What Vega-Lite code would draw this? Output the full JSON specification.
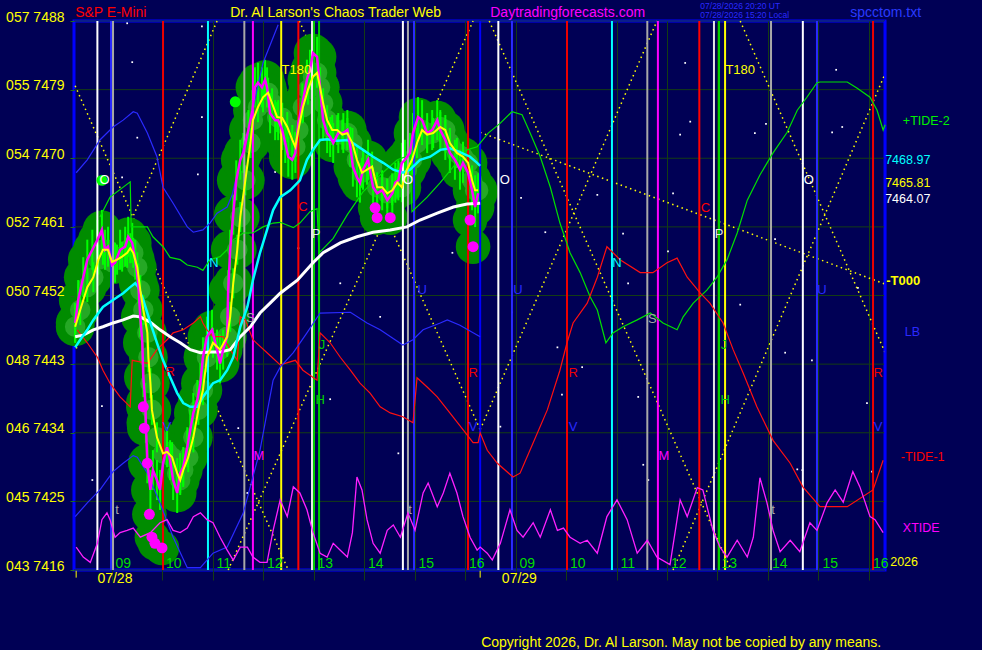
{
  "$schema": "https://vega.github.io/schema/vega-lite/v6.json",
  "description": "S&P E-Mini chaos trader chart, 07/28-07/29",
  "width": 811,
  "height": 549,
  "autosize": {"type": "none"},
  "padding": {"left": 74, "top": 21, "right": 97, "bottom": 80},
  "background": "#000055",
  "config": {
    "view": {"stroke": "#0000ff", "strokeWidth": 3},
    "text": {"font": "Liberation Sans"}
  },
  "datasets": {
    "price": [{"h":8.28,"p":7447.9},{"h":8.38,"p":7450.1},{"h":8.52,"p":7453.1},{"h":8.64,"p":7454.4},{"h":8.74,"p":7456.7},{"h":8.83,"p":7458.0},{"h":8.93,"p":7458.0},{"h":9.01,"p":7456.4},{"h":9.11,"p":7456.7},{"h":9.21,"p":7457.1},{"h":9.31,"p":7457.6},{"h":9.37,"p":7458.2},{"h":9.43,"p":7457.6},{"h":9.51,"p":7455.7},{"h":9.57,"p":7452.7},{"h":9.63,"p":7450.1},{"h":9.71,"p":7447.1},{"h":9.73,"p":7443.9},{"h":9.77,"p":7440.5},{"h":9.80,"p":7437.0},{"h":9.90,"p":7433.4},{"h":10.02,"p":7431.3},{"h":10.10,"p":7431.5},{"h":10.20,"p":7430.8},{"h":10.30,"p":7428.7},{"h":10.36,"p":7427.8},{"h":10.42,"p":7429.1},{"h":10.52,"p":7430.8},{"h":10.62,"p":7433.4},{"h":10.72,"p":7437.0},{"h":10.81,"p":7439.6},{"h":10.89,"p":7443.9},{"h":11.01,"p":7445.8},{"h":11.15,"p":7444.9},{"h":11.29,"p":7446.6},{"h":11.35,"p":7449.2},{"h":11.41,"p":7453.6},{"h":11.49,"p":7458.0},{"h":11.55,"p":7462.3},{"h":11.65,"p":7467.1},{"h":11.75,"p":7472.0},{"h":11.80,"p":7475.0},{"h":11.90,"p":7476.7},{"h":12.00,"p":7478.0},{"h":12.10,"p":7478.6},{"h":12.18,"p":7477.2},{"h":12.28,"p":7475.4},{"h":12.38,"p":7475.3},{"h":12.48,"p":7474.1},{"h":12.58,"p":7472.4},{"h":12.64,"p":7471.5},{"h":12.70,"p":7473.7},{"h":12.79,"p":7476.7},{"h":12.89,"p":7479.0},{"h":12.99,"p":7480.7},{"h":13.07,"p":7481.2},{"h":13.13,"p":7479.3},{"h":13.19,"p":7477.2},{"h":13.27,"p":7475.0},{"h":13.37,"p":7473.7},{"h":13.47,"p":7473.7},{"h":13.57,"p":7473.1},{"h":13.67,"p":7473.3},{"h":13.77,"p":7472.0},{"h":13.86,"p":7469.8},{"h":13.96,"p":7468.1},{"h":14.06,"p":7468.5},{"h":14.16,"p":7468.9},{"h":14.26,"p":7466.2},{"h":14.36,"p":7466.2},{"h":14.46,"p":7465.4},{"h":14.56,"p":7465.8},{"h":14.66,"p":7466.8},{"h":14.75,"p":7466.2},{"h":14.85,"p":7468.5},{"h":14.95,"p":7469.8},{"h":15.05,"p":7472.0},{"h":15.15,"p":7473.7},{"h":15.25,"p":7473.1},{"h":15.37,"p":7473.3},{"h":15.51,"p":7474.1},{"h":15.61,"p":7473.7},{"h":15.70,"p":7472.0},{"h":15.84,"p":7470.7},{"h":15.96,"p":7470.2},{"h":16.06,"p":7469.4},{"h":16.14,"p":7467.1},{"h":16.20,"p":7465.8},{"h":16.26,"p":7465.8}],
    "raw": [{"h":8.28,"p":7448.4},{"h":8.34,"p":7451.4},{"h":8.44,"p":7454.4},{"h":8.52,"p":7456.7},{"h":8.62,"p":7458.0},{"h":8.72,"p":7459.3},{"h":8.81,"p":7460.6},{"h":8.87,"p":7458.0},{"h":8.93,"p":7458.4},{"h":9.01,"p":7456.0},{"h":9.07,"p":7456.3},{"h":9.17,"p":7458.0},{"h":9.27,"p":7458.4},{"h":9.33,"p":7459.7},{"h":9.41,"p":7458.9},{"h":9.47,"p":7456.7},{"h":9.53,"p":7453.6},{"h":9.57,"p":7449.2},{"h":9.61,"p":7445.8},{"h":9.63,"p":7441.3},{"h":9.67,"p":7437.9},{"h":9.68,"p":7435.3},{"h":9.71,"p":7430.0},{"h":9.77,"p":7426.5},{"h":9.82,"p":7429.1},{"h":9.90,"p":7427.8},{"h":9.96,"p":7426.5},{"h":10.02,"p":7430.0},{"h":10.10,"p":7432.1},{"h":10.16,"p":7430.4},{"h":10.22,"p":7427.8},{"h":10.30,"p":7426.1},{"h":10.36,"p":7428.7},{"h":10.42,"p":7429.5},{"h":10.50,"p":7432.1},{"h":10.56,"p":7434.4},{"h":10.62,"p":7436.6},{"h":10.70,"p":7438.3},{"h":10.76,"p":7440.5},{"h":10.81,"p":7443.9},{"h":10.89,"p":7446.6},{"h":10.99,"p":7447.5},{"h":11.09,"p":7444.9},{"h":11.15,"p":7443.1},{"h":11.21,"p":7444.9},{"h":11.29,"p":7446.6},{"h":11.31,"p":7452.7},{"h":11.35,"p":7458.0},{"h":11.41,"p":7462.6},{"h":11.47,"p":7467.1},{"h":11.55,"p":7469.8},{"h":11.61,"p":7470.7},{"h":11.71,"p":7473.7},{"h":11.79,"p":7476.3},{"h":11.84,"p":7479.3},{"h":11.90,"p":7479.9},{"h":11.98,"p":7479.3},{"h":12.04,"p":7480.3},{"h":12.08,"p":7479.3},{"h":12.14,"p":7475.9},{"h":12.24,"p":7475.0},{"h":12.30,"p":7475.0},{"h":12.38,"p":7473.7},{"h":12.44,"p":7472.0},{"h":12.50,"p":7470.2},{"h":12.58,"p":7469.8},{"h":12.64,"p":7470.7},{"h":12.70,"p":7474.6},{"h":12.78,"p":7477.2},{"h":12.87,"p":7480.3},{"h":12.93,"p":7481.6},{"h":12.99,"p":7483.8},{"h":13.07,"p":7483.3},{"h":13.13,"p":7479.3},{"h":13.19,"p":7475.0},{"h":13.27,"p":7473.3},{"h":13.33,"p":7472.8},{"h":13.39,"p":7472.0},{"h":13.49,"p":7473.3},{"h":13.59,"p":7473.3},{"h":13.67,"p":7473.7},{"h":13.73,"p":7471.5},{"h":13.78,"p":7468.9},{"h":13.86,"p":7467.5},{"h":13.92,"p":7466.8},{"h":13.98,"p":7468.5},{"h":14.08,"p":7469.8},{"h":14.18,"p":7466.2},{"h":14.26,"p":7465.4},{"h":14.36,"p":7465.8},{"h":14.46,"p":7464.5},{"h":14.56,"p":7465.4},{"h":14.62,"p":7466.8},{"h":14.68,"p":7467.1},{"h":14.75,"p":7469.4},{"h":14.81,"p":7469.8},{"h":14.91,"p":7470.7},{"h":14.97,"p":7473.3},{"h":15.07,"p":7475.4},{"h":15.15,"p":7475.0},{"h":15.25,"p":7473.3},{"h":15.35,"p":7473.7},{"h":15.45,"p":7475.0},{"h":15.51,"p":7473.7},{"h":15.61,"p":7472.4},{"h":15.70,"p":7470.7},{"h":15.80,"p":7469.8},{"h":15.90,"p":7468.5},{"h":15.96,"p":7469.4},{"h":16.06,"p":7468.1},{"h":16.14,"p":7465.8},{"h":16.20,"p":7463.6},{"h":16.26,"p":7465.4}],
    "fast": [{"h":8.28,"p":7445.2},{"h":8.38,"p":7446.2},{"h":8.52,"p":7447.5},{"h":8.64,"p":7448.8},{"h":8.83,"p":7450.5},{"h":9.03,"p":7451.4},{"h":9.23,"p":7452.3},{"h":9.37,"p":7453.1},{"h":9.47,"p":7453.6},{"h":9.53,"p":7453.1},{"h":9.63,"p":7451.4},{"h":9.77,"p":7448.4},{"h":9.90,"p":7445.8},{"h":10.02,"p":7443.5},{"h":10.16,"p":7441.3},{"h":10.30,"p":7439.2},{"h":10.42,"p":7437.9},{"h":10.56,"p":7437.4},{"h":10.70,"p":7437.4},{"h":10.81,"p":7438.7},{"h":11.01,"p":7440.5},{"h":11.15,"p":7440.9},{"h":11.29,"p":7442.2},{"h":11.41,"p":7443.9},{"h":11.55,"p":7447.9},{"h":11.69,"p":7450.5},{"h":11.80,"p":7454.0},{"h":11.94,"p":7457.6},{"h":12.08,"p":7460.6},{"h":12.20,"p":7463.2},{"h":12.34,"p":7464.9},{"h":12.54,"p":7465.8},{"h":12.73,"p":7467.1},{"h":12.87,"p":7469.8},{"h":12.99,"p":7471.1},{"h":13.13,"p":7472.4},{"h":13.27,"p":7472.5},{"h":13.47,"p":7472.3},{"h":13.67,"p":7472.4},{"h":13.78,"p":7472.0},{"h":13.98,"p":7471.1},{"h":14.18,"p":7470.2},{"h":14.38,"p":7469.4},{"h":14.58,"p":7468.5},{"h":14.77,"p":7468.1},{"h":14.91,"p":7468.5},{"h":15.11,"p":7469.8},{"h":15.31,"p":7470.2},{"h":15.51,"p":7471.1},{"h":15.70,"p":7471.3},{"h":15.90,"p":7470.8},{"h":16.10,"p":7470.2},{"h":16.24,"p":7469.4},{"h":16.30,"p":7469.0}],
    "slow": [{"h":8.28,"p":7446.6},{"h":8.44,"p":7446.8},{"h":8.64,"p":7447.5},{"h":8.83,"p":7447.9},{"h":9.03,"p":7448.4},{"h":9.23,"p":7448.8},{"h":9.43,"p":7449.3},{"h":9.57,"p":7449.2},{"h":9.77,"p":7448.5},{"h":9.96,"p":7447.5},{"h":10.16,"p":7446.6},{"h":10.36,"p":7445.8},{"h":10.56,"p":7444.9},{"h":10.76,"p":7444.5},{"h":10.95,"p":7444.6},{"h":11.15,"p":7444.6},{"h":11.35,"p":7444.9},{"h":11.55,"p":7446.6},{"h":11.75,"p":7447.9},{"h":11.94,"p":7449.7},{"h":12.14,"p":7451.0},{"h":12.34,"p":7452.3},{"h":12.68,"p":7454.0},{"h":12.99,"p":7456.3},{"h":13.19,"p":7457.6},{"h":13.53,"p":7458.9},{"h":13.86,"p":7459.7},{"h":14.18,"p":7460.3},{"h":14.52,"p":7460.6},{"h":14.85,"p":7461.0},{"h":15.11,"p":7461.9},{"h":15.45,"p":7462.8},{"h":15.77,"p":7463.6},{"h":16.04,"p":7464.0},{"h":16.30,"p":7464.1}],
    "tide2": [{"h":8.77,"p":7462.3},{"h":8.97,"p":7464.9},{"h":9.37,"p":7466.9},{"h":9.39,"p":7461.0},{"h":9.71,"p":7461.0},{"h":9.82,"p":7459.7},{"h":10.02,"p":7458.4},{"h":10.16,"p":7457.0},{"h":10.36,"p":7456.7},{"h":10.50,"p":7456.0},{"h":10.70,"p":7455.7},{"h":10.81,"p":7455.3},{"h":10.95,"p":7456.7},{"h":11.15,"p":7457.1},{"h":11.29,"p":7458.0},{"h":11.41,"p":7459.3},{"h":11.61,"p":7460.2},{"h":11.80,"p":7460.2},{"h":12.00,"p":7461.0},{"h":12.20,"p":7461.5},{"h":12.34,"p":7461.6},{"h":12.60,"p":7460.9},{"h":12.73,"p":7461.5},{"h":12.93,"p":7463.0},{"h":13.07,"p":7463.4},{"h":13.11,"p":7457.6},{"h":13.39,"p":7459.5},{"h":13.67,"p":7462.6},{"h":13.98,"p":7465.6},{"h":14.32,"p":7467.8},{"h":14.66,"p":7469.8},{"h":14.91,"p":7470.4},{"h":14.95,"p":7463.0},{"h":15.25,"p":7464.9},{"h":15.51,"p":7466.8},{"h":15.77,"p":7468.9},{"h":16.04,"p":7471.1},{"h":16.24,"p":7471.5},{"h":16.46,"p":7473.3},{"h":16.70,"p":7474.6},{"h":16.93,"p":7476.1},{"h":17.13,"p":7475.7},{"h":17.29,"p":7473.3},{"h":17.49,"p":7470.2},{"h":17.69,"p":7466.2},{"h":17.88,"p":7461.5},{"h":18.08,"p":7457.6},{"h":18.28,"p":7455.0},{"h":18.48,"p":7451.8},{"h":18.62,"p":7450.1},{"h":18.79,"p":7445.8},{"h":18.93,"p":7447.1},{"h":19.13,"p":7447.9},{"h":19.41,"p":7448.8},{"h":19.67,"p":7449.7},{"h":19.92,"p":7448.4},{"h":20.20,"p":7447.5},{"h":20.32,"p":7449.2},{"h":20.52,"p":7451.0},{"h":20.79,"p":7452.7},{"h":20.99,"p":7454.4},{"h":21.19,"p":7456.7},{"h":21.39,"p":7460.2},{"h":21.59,"p":7464.5},{"h":21.84,"p":7467.8},{"h":22.10,"p":7470.7},{"h":22.38,"p":7473.4},{"h":22.58,"p":7476.3},{"h":22.77,"p":7478.0},{"h":22.97,"p":7479.9},{"h":23.03,"p":7480.0},{"h":23.57,"p":7480.0},{"h":23.76,"p":7479.2},{"h":24.02,"p":7478.0},{"h":24.16,"p":7476.3},{"h":24.28,"p":7473.7},{"h":24.32,"p":7474.4}],
    "tide1": [{"h":8.32,"p":7447.5},{"h":8.52,"p":7445.8},{"h":8.72,"p":7443.9},{"h":8.83,"p":7442.2},{"h":8.97,"p":7440.5},{"h":9.17,"p":7438.7},{"h":9.37,"p":7437.4},{"h":9.41,"p":7443.5},{"h":9.71,"p":7443.1},{"h":9.90,"p":7444.9},{"h":10.10,"p":7446.2},{"h":10.22,"p":7447.1},{"h":10.42,"p":7447.5},{"h":10.62,"p":7448.4},{"h":10.76,"p":7449.2},{"h":10.81,"p":7448.4},{"h":10.89,"p":7447.5},{"h":11.01,"p":7446.6},{"h":11.21,"p":7446.6},{"h":11.35,"p":7444.9},{"h":11.49,"p":7443.5},{"h":11.55,"p":7449.2},{"h":11.65,"p":7448.8},{"h":11.80,"p":7446.2},{"h":12.08,"p":7444.5},{"h":12.34,"p":7442.9},{"h":12.64,"p":7443.5},{"h":12.79,"p":7442.2},{"h":13.07,"p":7440.9},{"h":13.13,"p":7447.1},{"h":13.33,"p":7445.8},{"h":13.53,"p":7443.9},{"h":13.73,"p":7442.2},{"h":13.92,"p":7440.5},{"h":14.12,"p":7439.2},{"h":14.32,"p":7437.4},{"h":14.52,"p":7436.6},{"h":14.77,"p":7436.1},{"h":14.97,"p":7435.3},{"h":15.05,"p":7441.2},{"h":15.25,"p":7440.0},{"h":15.45,"p":7438.7},{"h":15.70,"p":7436.6},{"h":15.96,"p":7434.4},{"h":16.16,"p":7432.7},{"h":16.26,"p":7432.7},{"h":16.30,"p":7434.0},{"h":16.44,"p":7431.7},{"h":16.64,"p":7430.0},{"h":16.95,"p":7428.2},{"h":17.09,"p":7428.7},{"h":17.35,"p":7432.7},{"h":17.63,"p":7437.0},{"h":17.88,"p":7442.2},{"h":18.02,"p":7445.8},{"h":18.14,"p":7448.4},{"h":18.42,"p":7451.0},{"h":18.62,"p":7454.4},{"h":18.81,"p":7458.4},{"h":19.07,"p":7456.7},{"h":19.47,"p":7455.0},{"h":19.72,"p":7455.0},{"h":20.00,"p":7456.3},{"h":20.20,"p":7456.9},{"h":20.40,"p":7454.4},{"h":20.66,"p":7452.3},{"h":20.85,"p":7451.0},{"h":21.11,"p":7448.4},{"h":21.31,"p":7444.9},{"h":21.51,"p":7441.8},{"h":21.78,"p":7437.4},{"h":22.10,"p":7433.0},{"h":22.44,"p":7430.0},{"h":22.69,"p":7426.9},{"h":23.03,"p":7424.3},{"h":23.57,"p":7424.3},{"h":24.08,"p":7426.5},{"h":24.28,"p":7430.4}],
    "lb": [{"h":8.28,"p":7423.0},{"h":8.52,"p":7424.8},{"h":8.77,"p":7426.5},{"h":9.03,"p":7428.9},{"h":9.23,"p":7430.0},{"h":9.43,"p":7431.0},{"h":9.51,"p":7430.8},{"h":9.71,"p":7428.7},{"h":9.96,"p":7424.8},{"h":10.22,"p":7420.3},{"h":10.50,"p":7416.3},{"h":10.76,"p":7416.3},{"h":11.01,"p":7418.2},{"h":11.29,"p":7419.0},{"h":11.61,"p":7423.5},{"h":11.94,"p":7431.7},{"h":12.20,"p":7440.9},{"h":12.34,"p":7442.6},{"h":12.60,"p":7444.5},{"h":12.87,"p":7447.1},{"h":13.13,"p":7449.7},{"h":13.73,"p":7449.8},{"h":14.06,"p":7448.4},{"h":14.32,"p":7447.5},{"h":14.77,"p":7445.5},{"h":14.97,"p":7446.2},{"h":15.17,"p":7447.5},{"h":15.51,"p":7448.4},{"h":15.65,"p":7448.8},{"h":15.90,"p":7448.1},{"h":16.30,"p":7446.6}],
    "ub": [{"h":8.30,"p":7468.1},{"h":8.52,"p":7469.8},{"h":8.77,"p":7472.4},{"h":9.03,"p":7474.1},{"h":9.23,"p":7475.0},{"h":9.43,"p":7476.1},{"h":9.51,"p":7475.9},{"h":9.71,"p":7473.3},{"h":9.90,"p":7470.2},{"h":10.02,"p":7466.2},{"h":10.22,"p":7464.1},{"h":10.50,"p":7461.0},{"h":10.62,"p":7460.3},{"h":10.81,"p":7460.6},{"h":10.95,"p":7461.5},{"h":11.09,"p":7462.8},{"h":11.29,"p":7463.6},{"h":11.39,"p":7465.2},{"h":11.75,"p":7475.0},{"h":12.00,"p":7482.5},{"h":12.30,"p":7487.5}],
    "xtide": [{"h":8.30,"p":7419.0},{"h":8.44,"p":7417.7},{"h":8.58,"p":7417.0},{"h":8.72,"p":7419.5},{"h":8.81,"p":7422.6},{"h":8.91,"p":7423.5},{"h":8.97,"p":7422.6},{"h":9.07,"p":7420.3},{"h":9.17,"p":7420.9},{"h":9.31,"p":7421.2},{"h":9.43,"p":7421.5},{"h":9.57,"p":7420.3},{"h":9.77,"p":7420.9},{"h":9.96,"p":7422.2},{"h":10.10,"p":7422.6},{"h":10.22,"p":7421.2},{"h":10.36,"p":7420.9},{"h":10.50,"p":7421.5},{"h":10.62,"p":7423.0},{"h":10.76,"p":7423.5},{"h":10.89,"p":7422.6},{"h":11.01,"p":7422.2},{"h":11.15,"p":7420.3},{"h":11.29,"p":7418.6},{"h":11.41,"p":7417.3},{"h":11.55,"p":7419.0},{"h":11.69,"p":7419.0},{"h":11.80,"p":7417.7},{"h":11.94,"p":7417.0},{"h":12.08,"p":7417.0},{"h":12.20,"p":7421.2},{"h":12.34,"p":7425.2},{"h":12.48,"p":7423.0},{"h":12.60,"p":7426.9},{"h":12.73,"p":7426.1},{"h":12.87,"p":7423.9},{"h":12.99,"p":7420.9},{"h":13.13,"p":7418.2},{"h":13.27,"p":7417.7},{"h":13.39,"p":7419.5},{"h":13.53,"p":7418.6},{"h":13.67,"p":7417.7},{"h":13.77,"p":7420.9},{"h":13.86,"p":7428.2},{"h":13.96,"p":7426.5},{"h":14.06,"p":7422.6},{"h":14.18,"p":7419.5},{"h":14.32,"p":7418.2},{"h":14.46,"p":7421.2},{"h":14.58,"p":7421.9},{"h":14.72,"p":7420.3},{"h":14.87,"p":7423.5},{"h":15.01,"p":7421.2},{"h":15.17,"p":7426.1},{"h":15.27,"p":7427.4},{"h":15.45,"p":7424.3},{"h":15.57,"p":7426.1},{"h":15.70,"p":7428.7},{"h":15.84,"p":7426.1},{"h":15.96,"p":7423.0},{"h":16.10,"p":7420.3},{"h":16.24,"p":7418.6},{"h":16.30,"p":7419.0},{"h":16.44,"p":7418.2},{"h":16.54,"p":7417.3},{"h":16.70,"p":7419.5},{"h":16.89,"p":7423.9},{"h":17.03,"p":7421.2},{"h":17.15,"p":7420.3},{"h":17.35,"p":7422.2},{"h":17.49,"p":7420.3},{"h":17.69,"p":7423.9},{"h":17.83,"p":7421.2},{"h":17.95,"p":7421.5},{"h":18.08,"p":7420.3},{"h":18.28,"p":7419.5},{"h":18.42,"p":7419.9},{"h":18.62,"p":7418.2},{"h":18.81,"p":7423.0},{"h":19.01,"p":7425.2},{"h":19.21,"p":7422.6},{"h":19.41,"p":7418.2},{"h":19.61,"p":7419.9},{"h":19.80,"p":7417.7},{"h":20.06,"p":7416.7},{"h":20.26,"p":7425.2},{"h":20.40,"p":7423.0},{"h":20.60,"p":7426.8},{"h":20.71,"p":7426.5},{"h":20.91,"p":7421.2},{"h":21.05,"p":7419.0},{"h":21.19,"p":7417.7},{"h":21.39,"p":7419.9},{"h":21.59,"p":7417.7},{"h":21.71,"p":7420.3},{"h":21.84,"p":7428.1},{"h":21.98,"p":7424.8},{"h":22.10,"p":7421.2},{"h":22.24,"p":7418.4},{"h":22.44,"p":7419.9},{"h":22.63,"p":7418.4},{"h":22.83,"p":7422.2},{"h":22.97,"p":7421.2},{"h":23.17,"p":7424.8},{"h":23.33,"p":7426.5},{"h":23.49,"p":7424.9},{"h":23.68,"p":7428.9},{"h":23.82,"p":7426.9},{"h":24.02,"p":7423.0},{"h":24.12,"p":7422.6},{"h":24.28,"p":7420.9}],
    "dots": [{"h":9.63,"p":7437.4},{"h":9.65,"p":7434.6},{"h":9.71,"p":7430.0},{"h":9.75,"p":7423.3},{"h":9.80,"p":7420.3},{"h":9.86,"p":7419.5},{"h":10.00,"p":7418.9},{"h":14.22,"p":7463.5},{"h":14.26,"p":7462.2},{"h":14.52,"p":7462.2},{"h":16.10,"p":7461.9},{"h":16.16,"p":7458.4}],
    "gdots": [{"h":8.81,"p":7467.1},{"h":11.45,"p":7477.4}],
    "levels": [{"p":7416},{"p":7425},{"p":7434},{"p":7443},{"p":7452},{"p":7461},{"p":7470},{"p":7479},{"p":7488}],
    "segs": [{"h":8.28,"p":7479.5,"h2":12.50,"p2":7416},{"h":11.09,"p":7488,"h2":8.28,"p2":7444.7},{"h":11.31,"p":7416,"h2":16.16,"p2":7488},{"h":12.72,"p":7488,"h2":16.30,"p2":7434.4},{"h":16.30,"p":7434.4,"h2":19.80,"p2":7488},{"h":16.48,"p":7488,"h2":21.27,"p2":7416},{"h":20.12,"p":7416,"h2":24.32,"p2":7481.1},{"h":21.45,"p":7488,"h2":24.32,"p2":7444.5},{"h":16.30,"p":7473.4,"h2":24.32,"p2":7453.5}],
    "vlines": [{"k":"O","h":8.72},{"k":"U","h":8.99},{"k":"t","h":9.03},{"k":"R","h":10.02},{"k":"N","h":10.91},{"k":"S","h":11.63},{"k":"M","h":11.80},{"k":"T","h":12.36},{"k":"C","h":12.70},{"k":"P","h":12.97},{"k":"H","h":13.01},{"k":"J","h":13.11},{"k":"O","h":14.77},{"k":"t","h":14.87},{"k":"U","h":14.99},{"k":"R","h":16.06},{"k":"E","h":16.30},{"k":"O","h":16.66},{"k":"U","h":16.93},{"k":"R","h":18.02},{"k":"N","h":18.91},{"k":"S","h":19.61},{"k":"M","h":19.82},{"k":"C","h":20.64},{"k":"P","h":20.93},{"k":"H","h":21.03},{"k":"T","h":21.15},{"k":"t","h":22.06},{"k":"O","h":22.69},{"k":"U","h":22.97},{"k":"R","h":24.08},{"k":"E","h":24.32}],
    "letters": [{"label":"O","k":"O","h":8.86,"p":7467.1},{"label":"N","k":"N","h":11.03,"p":7456.3},{"label":"S","k":"S","h":11.75,"p":7449.0},{"label":"M","k":"M","h":11.92,"p":7431.0},{"label":"C","k":"C","h":12.79,"p":7463.6},{"label":"P","k":"P","h":13.05,"p":7460.1},{"label":"J","k":"J","h":13.17,"p":7445.5},{"label":"H","k":"H","h":13.13,"p":7438.3},{"label":"U","k":"U","h":15.15,"p":7452.7},{"label":"R","k":"R","h":16.16,"p":7441.8},{"label":"V","k":"V","h":16.16,"p":7434.8},{"label":"R","k":"R","h":10.16,"p":7442.0},{"label":"V","k":"V","h":10.10,"p":7434.8},{"label":"t","k":"t","h":9.11,"p":7423.9},{"label":"t","k":"t","h":14.91,"p":7423.9},{"label":"t","k":"t","h":22.10,"p":7423.9},{"label":"O","k":"O","h":14.87,"p":7467.1},{"label":"T180","k":"T","h":12.66,"p":7481.6},{"label":"O","k":"O","h":16.79,"p":7467.1},{"label":"U","k":"U","h":17.05,"p":7452.7},{"label":"R","k":"R","h":18.14,"p":7441.8},{"label":"R","k":"R","h":24.18,"p":7441.8},{"label":"V","k":"V","h":18.14,"p":7434.8},{"label":"V","k":"V","h":24.18,"p":7434.8},{"label":"N","k":"N","h":19.01,"p":7456.3},{"label":"S","k":"S","h":19.71,"p":7448.9},{"label":"M","k":"M","h":19.94,"p":7431.0},{"label":"C","k":"C","h":20.76,"p":7463.5},{"label":"P","k":"P","h":21.03,"p":7460.1},{"label":"J","k":"J","h":21.13,"p":7445.5},{"label":"H","k":"H","h":21.15,"p":7438.3},{"label":"O","k":"O","h":22.81,"p":7467.1},{"label":"U","k":"U","h":23.07,"p":7452.7},{"label":"T180","k":"T","h":21.45,"p":7481.6}],
    "hours": [{"h":9,"label":"09"},{"h":10,"label":"10"},{"h":11,"label":"11"},{"h":12,"label":"12"},{"h":13,"label":"13"},{"h":14,"label":"14"},{"h":15,"label":"15"},{"h":16,"label":"16"},{"h":17,"label":"09"},{"h":18,"label":"10"},{"h":19,"label":"11"},{"h":20,"label":"12"},{"h":21,"label":"13"},{"h":22,"label":"14"},{"h":23,"label":"15"},{"h":24,"label":"16"}],
    "notes": [{"label":"+TIDE-2","k":"tide2","h":24.67,"p":7474.9},{"label":"7468.97","k":"fast","h":24.32,"p":7469.8},{"label":"7465.81","k":"price","h":24.32,"p":7466.8},{"label":"7464.07","k":"slow","h":24.32,"p":7464.7},{"label":"-T000","k":"t000","h":24.34,"p":7453.9},{"label":"LB","k":"lb","h":24.71,"p":7447.2},{"label":"-TIDE-1","k":"tide1","h":24.63,"p":7430.8},{"label":"XTIDE","k":"xtide","h":24.67,"p":7421.5},{"label":"2026","k":"year","h":24.42,"p":7417.0}],
    "titles": [{"label":"S&P E-Mini","k":"title","h":8.28,"p":7489.1},{"label":"Dr. Al Larson's Chaos Trader Web","k":"web","h":11.35,"p":7489.1},{"label":"Daytradingforecasts.com","k":"site","h":16.50,"p":7489.1},{"label":"spcctom.txt","k":"file","h":23.63,"p":7489.1},{"label":"07/28","k":"date","h":8.72,"p":7414.8},{"label":"07/29","k":"date","h":16.73,"p":7414.8},{"label":"Copyright 2026, Dr. Al Larson. May not be copied by any means.","k":"copy","h":16.32,"p":7406.4}],
    "stamps": [{"label":"07/28/2026 20:20 UT","h":20.66,"p":7490.0},{"label":"07/28/2026 15:20 Local","h":20.66,"p":7488.8}],
    "days": [{"h":8.30},{"h":16.30}],
    "stars": [{"h":9.31,"p":7487.7},{"h":9.41,"p":7482.6},{"h":10.79,"p":7487.3},{"h":10.79,"p":7475.4},{"h":9.51,"p":7472.7},{"h":10.71,"p":7467.9},{"h":9.21,"p":7467.5},{"h":12.24,"p":7468.2},{"h":20.46,"p":7474.8},{"h":21.96,"p":7474.5},{"h":20.26,"p":7473.1},{"h":23.27,"p":7473.4},{"h":17.11,"p":7464.8},{"h":18.62,"p":7465.2},{"h":20.12,"p":7465.4},{"h":19.13,"p":7460.1},{"h":17.59,"p":7460.3},{"h":22.14,"p":7459.4},{"h":20.02,"p":7457.8},{"h":19.23,"p":7453.6},{"h":23.78,"p":7453.0},{"h":16.93,"p":7449.8},{"h":21.45,"p":7450.8},{"h":17.83,"p":7445.2},{"h":22.34,"p":7444.5},{"h":18.32,"p":7442.6},{"h":17.92,"p":7439.0},{"h":22.87,"p":7443.5},{"h":19.43,"p":7438.7},{"h":23.96,"p":7437.9},{"h":16.70,"p":7434.8},{"h":18.02,"p":7430.2},{"h":19.53,"p":7429.8},{"h":22.68,"p":7429.1},{"h":12.70,"p":7458.2},{"h":13.53,"p":7453.6},{"h":14.32,"p":7449.2},{"h":13.33,"p":7438.4},{"h":15.75,"p":7457.6},{"h":14.68,"p":7431.3},{"h":8.81,"p":7437.5},{"h":8.62,"p":7427.8},{"h":11.69,"p":7426.1},{"h":11.51,"p":7434.6},{"h":19.63,"p":7427.8},{"h":22.58,"p":7429.2},{"h":24.06,"p":7428.9},{"h":20.36,"p":7482.5},{"h":23.35,"p":7481.6},{"h":21.74,"p":7473.3},{"h":23.47,"p":7474.1}]
  },
  "layer": [
    {"data": {"name": "levels"}, "mark": {"type": "rule", "color": "#143c14", "strokeWidth": 1},
     "encoding": {"y": {"field": "p", "type": "quantitative", "title": null,
       "scale": {"domain": [7416, 7488], "nice": false, "zero": false},
       "axis": {"values": [7416,7425,7434,7443,7452,7461,7470,7479,7488], "domain": false, "grid": false, "zindex": 1, "tickColor": "#1e6e1e", "tickSize": 4, "labelPadding": 6, "labelColor": "#ffff00", "labelFont": "Liberation Sans", "labelFontSize": 14, "labelBaseline": "alphabetic", "title": null,
         "labelExpr": "(datum.value==7488?'057':datum.value==7479?'055':datum.value==7470?'054':datum.value==7461?'052':datum.value==7452?'050':datum.value==7443?'048':datum.value==7434?'046':datum.value==7425?'045':'043') + '  ' + datum.value"}}}},
    {"data": {"name": "stars"}, "mark": {"type": "square", "size": 3, "color": "#ffffff", "opacity": 1},
     "encoding": {"x": {"field": "h", "type": "quantitative", "title": null,
       "scale": {"domain": [8.257, 24.317], "nice": false, "zero": false},
       "axis": {"values": [9,10,11,12,13,14,15,16,17,18,19,20,21,22,23,24], "labels": false, "domain": false, "grid": true, "gridColor": "#143c14", "tickColor": "#143c14", "tickSize": 10, "title": null}},
      "y": {"field": "p", "type": "quantitative", "title": null}}},
    {"data": {"name": "segs"}, "mark": {"type": "rule", "color": "#ffff00", "strokeWidth": 1.5, "strokeDash": [1.5, 3.5]},
     "encoding": {"x": {"field": "h", "type": "quantitative", "title": null}, "y": {"field": "p", "type": "quantitative", "title": null}, "x2": {"field": "h2"}, "y2": {"field": "p2"}}},
    {"data": {"name": "raw"}, "mark": {"type": "circle", "size": 1500, "color": "#008c00", "opacity": 1},
     "encoding": {"x": {"field": "h", "type": "quantitative", "title": null}, "y": {"field": "p", "type": "quantitative", "title": null}}},
    {"data": {"name": "price"}, "mark": {"type": "circle", "size": 1500, "color": "#008c00", "opacity": 1},
     "encoding": {"x": {"field": "h", "type": "quantitative", "title": null}, "y": {"field": "p", "type": "quantitative", "title": null}}},
    {"data": {"name": "dots"}, "mark": {"type": "circle", "size": 1200, "color": "#008c00", "opacity": 1},
     "encoding": {"x": {"field": "h", "type": "quantitative", "title": null}, "y": {"field": "p", "type": "quantitative", "title": null}}},
    {"data": {"name": "price"}, "mark": {"type": "circle", "size": 420, "color": "#25a825", "opacity": 1},
     "encoding": {"x": {"field": "h", "type": "quantitative", "title": null}, "y": {"field": "p", "type": "quantitative", "title": null}}},
    {"data": {"name": "raw"}, "mark": {"type": "tick", "orient": "vertical", "size": 40, "thickness": 2, "color": "#00ff00", "opacity": 1},
     "encoding": {"x": {"field": "h", "type": "quantitative", "title": null}, "y": {"field": "p", "type": "quantitative", "title": null}}},
    {"data": {"name": "price"}, "mark": {"type": "tick", "orient": "vertical", "size": 30, "thickness": 2, "color": "#00ff00", "opacity": 1},
     "encoding": {"x": {"field": "h", "type": "quantitative", "title": null}, "y": {"field": "p", "type": "quantitative", "title": null}}},
    {"data": {"name": "vlines"}, "mark": {"type": "rule", "strokeWidth": 2},
     "encoding": {"x": {"field": "h", "type": "quantitative", "title": null},
       "color": {"field": "k", "type": "nominal", "legend": null,
         "scale": {"domain": ["O","P","N","S","t","M","C","R","T","H","J","U","V","E","tide2","fast","price","slow","t000","lb","tide1","xtide","year","title","web","site","stamp","file","copy","date"],
                   "range": ["#ffffff","#e6e6e6","#00ffff","#a8a8a8","#a8a8a8","#ff00ff","#ff0000","#ee0000","#ffff00","#00d000","#00d000","#2a2aff","#2a2aff","#0000ff","#00f000","#00ffff","#ffff00","#ffffff","#ffff00","#2a2aff","#ff0000","#ff00ff","#ffff00","#ff0000","#ffff00","#ff00ff","#2a2aff","#2a3aff","#ffff00","#ffff00"]}}}},
    {"data": {"name": "tide2"}, "mark": {"type": "line", "color": "#00e000", "strokeWidth": 1.2},
     "encoding": {"x": {"field": "h", "type": "quantitative", "title": null}, "y": {"field": "p", "type": "quantitative", "title": null}}},
    {"data": {"name": "tide1"}, "mark": {"type": "line", "color": "#ff1010", "strokeWidth": 1.2},
     "encoding": {"x": {"field": "h", "type": "quantitative", "title": null}, "y": {"field": "p", "type": "quantitative", "title": null}}},
    {"data": {"name": "lb"}, "mark": {"type": "line", "color": "#2a2aff", "strokeWidth": 1.2},
     "encoding": {"x": {"field": "h", "type": "quantitative", "title": null}, "y": {"field": "p", "type": "quantitative", "title": null}}},
    {"data": {"name": "ub"}, "mark": {"type": "line", "color": "#2a2aff", "strokeWidth": 1.2},
     "encoding": {"x": {"field": "h", "type": "quantitative", "title": null}, "y": {"field": "p", "type": "quantitative", "title": null}}},
    {"data": {"name": "xtide"}, "mark": {"type": "line", "color": "#ff20ff", "strokeWidth": 1.3},
     "encoding": {"x": {"field": "h", "type": "quantitative", "title": null}, "y": {"field": "p", "type": "quantitative", "title": null}}},
    {"data": {"name": "slow"}, "mark": {"type": "line", "color": "#ffffff", "strokeWidth": 3},
     "encoding": {"x": {"field": "h", "type": "quantitative", "title": null}, "y": {"field": "p", "type": "quantitative", "title": null}}},
    {"data": {"name": "fast"}, "mark": {"type": "line", "color": "#00ffff", "strokeWidth": 2.5},
     "encoding": {"x": {"field": "h", "type": "quantitative", "title": null}, "y": {"field": "p", "type": "quantitative", "title": null}}},
    {"data": {"name": "raw"}, "mark": {"type": "line", "color": "#ff00ff", "strokeWidth": 2.5},
     "encoding": {"x": {"field": "h", "type": "quantitative", "title": null}, "y": {"field": "p", "type": "quantitative", "title": null}}},
    {"data": {"name": "price"}, "mark": {"type": "line", "color": "#ffff00", "strokeWidth": 2},
     "encoding": {"x": {"field": "h", "type": "quantitative", "title": null}, "y": {"field": "p", "type": "quantitative", "title": null}}},
    {"data": {"name": "dots"}, "mark": {"type": "circle", "size": 120, "color": "#ff00ff", "opacity": 1},
     "encoding": {"x": {"field": "h", "type": "quantitative", "title": null}, "y": {"field": "p", "type": "quantitative", "title": null}}},
    {"data": {"name": "gdots"}, "mark": {"type": "circle", "size": 120, "color": "#00ff00", "opacity": 1},
     "encoding": {"x": {"field": "h", "type": "quantitative", "title": null}, "y": {"field": "p", "type": "quantitative", "title": null}}},
    {"data": {"name": "letters"}, "mark": {"type": "text", "fontSize": 13, "align": "center", "baseline": "middle"},
     "encoding": {"x": {"field": "h", "type": "quantitative", "title": null}, "y": {"field": "p", "type": "quantitative", "title": null},
       "text": {"field": "label"},
       "color": {"field": "k", "type": "nominal", "legend": null,
         "scale": {"domain": ["O","P","N","S","t","M","C","R","T","H","J","U","V","E","tide2","fast","price","slow","t000","lb","tide1","xtide","year","title","web","site","stamp","file","copy","date"],
                   "range": ["#ffffff","#e6e6e6","#00ffff","#a8a8a8","#a8a8a8","#ff00ff","#ff0000","#ee0000","#ffff00","#00d000","#00d000","#2a2aff","#2a2aff","#0000ff","#00f000","#00ffff","#ffff00","#ffffff","#ffff00","#2a2aff","#ff0000","#ff00ff","#ffff00","#ff0000","#ffff00","#ff00ff","#2a2aff","#2a3aff","#ffff00","#ffff00"]}}}},
    {"data": {"name": "hours"}, "mark": {"type": "text", "fontSize": 14, "align": "left", "baseline": "alphabetic", "dx": 4, "dy": -2, "color": "#00dd00"},
     "encoding": {"x": {"field": "h", "type": "quantitative", "title": null}, "y": {"datum": 7416}, "text": {"field": "label"}}},
    {"data": {"name": "notes"}, "transform": [{"filter": "datum.label != '-T000'"}],
     "mark": {"type": "text", "fontSize": 12.5, "align": "left", "baseline": "middle"},
     "encoding": {"x": {"field": "h", "type": "quantitative", "title": null}, "y": {"field": "p", "type": "quantitative", "title": null},
       "text": {"field": "label"},
       "color": {"field": "k", "type": "nominal", "legend": null,
         "scale": {"domain": ["O","P","N","S","t","M","C","R","T","H","J","U","V","E","tide2","fast","price","slow","t000","lb","tide1","xtide","year","title","web","site","stamp","file","copy","date"],
                   "range": ["#ffffff","#e6e6e6","#00ffff","#a8a8a8","#a8a8a8","#ff00ff","#ff0000","#ee0000","#ffff00","#00d000","#00d000","#2a2aff","#2a2aff","#0000ff","#00f000","#00ffff","#ffff00","#ffffff","#ffff00","#2a2aff","#ff0000","#ff00ff","#ffff00","#ff0000","#ffff00","#ff00ff","#2a2aff","#2a3aff","#ffff00","#ffff00"]}}}},
    {"data": {"name": "notes"}, "transform": [{"filter": "datum.label == '-T000'"}],
     "mark": {"type": "text", "fontSize": 13, "fontWeight": "bold", "align": "left", "baseline": "middle", "color": "#ffff00"},
     "encoding": {"x": {"field": "h", "type": "quantitative", "title": null}, "y": {"field": "p", "type": "quantitative", "title": null}, "text": {"field": "label"}}},
    {"data": {"name": "titles"}, "mark": {"type": "text", "fontSize": 14, "align": "left", "baseline": "middle"},
     "encoding": {"x": {"field": "h", "type": "quantitative", "title": null}, "y": {"field": "p", "type": "quantitative", "title": null},
       "text": {"field": "label"},
       "color": {"field": "k", "type": "nominal", "legend": null,
         "scale": {"domain": ["O","P","N","S","t","M","C","R","T","H","J","U","V","E","tide2","fast","price","slow","t000","lb","tide1","xtide","year","title","web","site","stamp","file","copy","date"],
                   "range": ["#ffffff","#e6e6e6","#00ffff","#a8a8a8","#a8a8a8","#ff00ff","#ff0000","#ee0000","#ffff00","#00d000","#00d000","#2a2aff","#2a2aff","#0000ff","#00f000","#00ffff","#ffff00","#ffffff","#ffff00","#2a2aff","#ff0000","#ff00ff","#ffff00","#ff0000","#ffff00","#ff00ff","#2a2aff","#2a3aff","#ffff00","#ffff00"]}}}},
    {"data": {"name": "stamps"}, "mark": {"type": "text", "fontSize": 8.5, "align": "left", "baseline": "middle", "color": "#2a2aff"},
     "encoding": {"x": {"field": "h", "type": "quantitative", "title": null}, "y": {"field": "p", "type": "quantitative", "title": null}, "text": {"field": "label"}}},
    {"data": {"name": "days"}, "mark": {"type": "rule", "color": "#ffff00", "strokeWidth": 1},
     "encoding": {"x": {"field": "h", "type": "quantitative", "title": null}, "y": {"datum": 7415.9}, "y2": {"datum": 7415.0}}}
  ]
}
